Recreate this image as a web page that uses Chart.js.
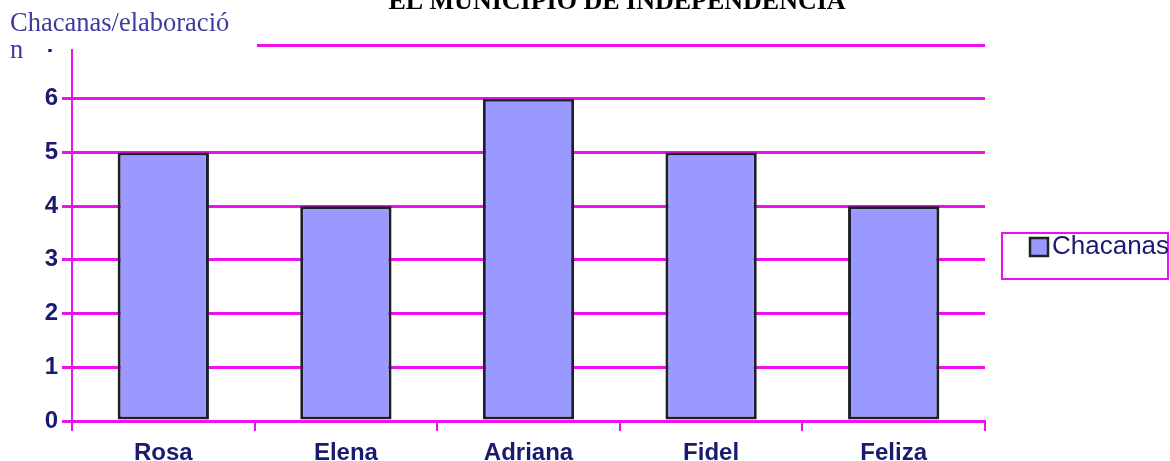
<!DOCTYPE html>
<html lang="es">
<head>
    <meta charset="UTF-8">
    <title>Chacanas</title>
    <style>
        body {margin: 0; background: #fff;}
        #myChart {display: block;}
    </style>
</head>
<body>
    <canvas id="myChart" width="1170" height="461"></canvas>
    <script src="https://cdn.jsdelivr.net/npm/chart.js@4.4.0/dist/chart.umd.min.js"></script>
    <script>
        // datos
        const nombres = ['Rosa', 'Elena', 'Adriana', 'Fidel', 'Feliza'];
        const chacanas = [5, 4, 6, 5, 4];
        const serieNombre = 'Chacanas';
        const titulo = 'EL MUNICIPIO DE INDEPENDENCIA';
        const tituloEje = ['Chacanas/elaboració', 'n'];

        const magenta = '#ee11ee';
        const azul = '#1a1a6e';
        const relleno = '#9999ff';

        // titulo, eje y leyenda dibujados encima
        const extras = {
            id: 'extras',
            afterDraw(chart) {
                const c = chart.ctx;
                c.save();
                // recuadro blanco arriba a la izquierda
                c.fillStyle = '#fff';
                c.fillRect(0, 0, 257, 49);

                c.fillStyle = '#3c3c9c';
                c.font = '26.5px "Liberation Serif"';
                c.textAlign = 'left';
                c.textBaseline = 'alphabetic';
                c.fillText(tituloEje[0], 10, 31);
                c.fillText(tituloEje[1], 10, 58);

                c.fillStyle = '#000';
                c.font = 'bold 26px "Liberation Serif"';
                c.textAlign = 'center';
                c.fillText(titulo, 617, 9);

                // leyenda
                c.strokeStyle = magenta;
                c.lineWidth = 2;
                c.strokeRect(1002, 233, 166, 46);
                c.fillStyle = relleno;
                c.fillRect(1030, 238, 18, 18);
                c.strokeStyle = '#222';
                c.lineWidth = 2.5;
                c.strokeRect(1030, 238, 18, 18);
                c.fillStyle = azul;
                c.font = '26px "Liberation Sans"';
                c.textAlign = 'left';
                c.textBaseline = 'middle';
                c.fillText(chart.data.datasets[0].label, 1052, 247);
                c.restore();
            }
        };

        const ctx = document.getElementById('myChart').getContext('2d');
        const myChart = new Chart(ctx, {
            type: 'bar',
            plugins: [extras],
            data: {
                labels: nombres,
                datasets: [{
                    label: serieNombre,
                    data: chacanas,
                    backgroundColor: relleno,
                    borderColor: '#1e1e2a',
                    borderWidth: 3,
                    borderSkipped: false,
                    barPercentage: 1,
                    categoryPercentage: 0.5
                }]
            },
            options: {
                responsive: false,
                animation: false,
                layout: {padding: {left: 0, right: 185, top: 45, bottom: 0}},
                plugins: {
                    legend: {display: false},
                    title: {display: false},
                    tooltip: {enabled: false}
                },
                scales: {
                    x: {
                        afterFit: s => { s.height = 40; },
                        grid: {
                            offset: true,
                            drawOnChartArea: false,
                            color: magenta,
                            lineWidth: 2,
                            tickLength: 10
                        },
                        border: {color: magenta, width: 2},
                        ticks: {
                            color: azul,
                            padding: 8,
                            font: {family: '"Liberation Sans"', size: 24, weight: 'bold'}
                        }
                    },
                    y: {
                        min: 0,
                        max: 7,
                        afterFit: s => { s.width = 72; },
                        grid: {color: magenta, lineWidth: 3, tickLength: 10},
                        border: {color: magenta, width: 2},
                        ticks: {
                            stepSize: 1,
                            color: azul,
                            padding: 4,
                            font: {family: '"Liberation Sans"', size: 24, weight: 'bold'}
                        }
                    }
                }
            }
        });
    </script>
</body>
</html>
